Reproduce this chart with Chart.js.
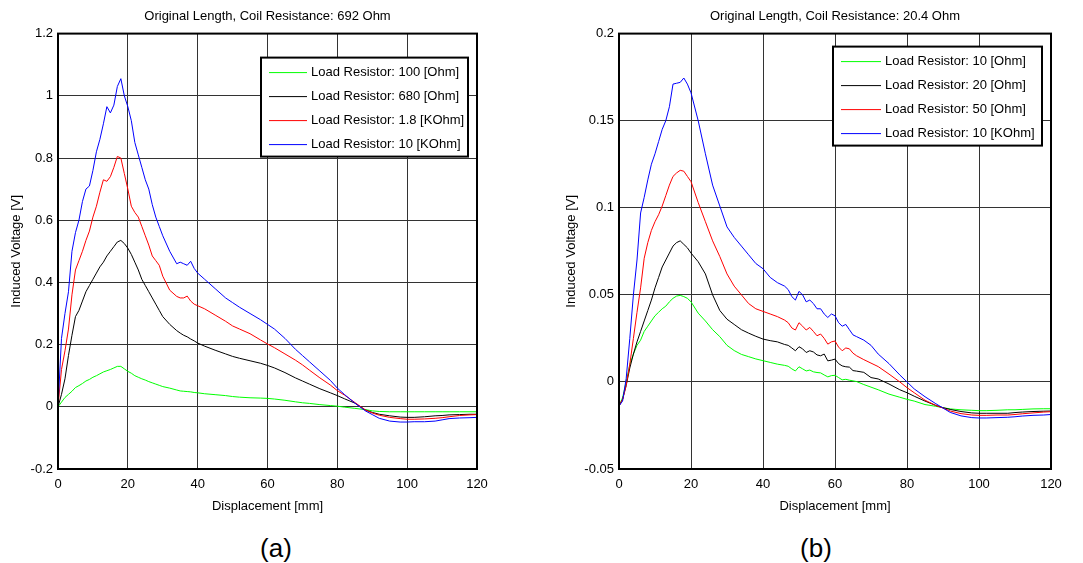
<!DOCTYPE html>
<html>
<head>
<meta charset="utf-8">
<script src="https://cdn.jsdelivr.net/npm/chart.js@4.4.1/dist/chart.umd.min.js"></script>
<style>
html, body { margin: 0; padding: 0; background: #fff; overflow: hidden; }
#page { position: relative; width: 1083px; height: 563px; }
canvas { position: absolute; top: 0; }
#chartA { left: 0; }
#chartB { left: 540px; }
.cap { position: absolute; top: 548px; transform: translate(-50%, -50%);
       font-family: "Liberation Sans", Arial, sans-serif; font-size: 26px; color: #000; }
</style>
</head>
<body>
<div id="page">
  <canvas id="chartA" width="540" height="520"></canvas>
  <canvas id="chartB" width="543" height="520"></canvas>
  <div class="cap" style="left:276px">(a)</div>
  <div class="cap" style="left:816px">(b)</div>
</div>
<script>
// (a) coil 692 Ohm
const dispA = [0,1,2,3,4,5,6,7,8,9,10,11,12,13,14,15,16,17,18,19,20,21,22,23,24,25,26,27,28,29,30,
  32,34,35,36,37,38,39,40,
  42,45,48,50,52,55,58,60,62,65,68,70,72,75,78,80,82,85,88,90,92,95,98,100,102,105,108,110,112,115,118,120];
const labelsA = ["Load Resistor: 100 [Ohm]", "Load Resistor: 680 [Ohm]", "Load Resistor: 1.8 [KOhm]", "Load Resistor: 10 [KOhm]"];
const vA_100 = [0,0.015,0.03,0.04,0.05,0.062,0.068,0.075,0.083,0.088,0.095,
  0.1,0.106,0.112,0.116,0.12,0.125,0.13,0.13,0.122,0.114,
  0.108,0.1,0.095,0.09,0.086,0.081,0.077,0.073,0.069,0.065,
  0.06,0.054,0.051,0.05,0.049,0.048,0.046,0.045,
  0.042,0.039,0.036,0.033,0.031,0.029,0.028,0.027,0.025,0.021,0.016,0.013,0.011,0.007,0.004,0.002,
  -0.001,-0.005,-0.009,-0.013,-0.015,-0.016,-0.016,-0.016,-0.016,-0.016,-0.016,-0.016,-0.016,-0.016,-0.016,-0.016];
const vA_680 = [0,0.04,0.09,0.165,0.23,0.29,0.31,0.34,0.37,0.39,0.41,
  0.43,0.45,0.465,0.485,0.5,0.515,0.53,0.535,0.525,0.51,
  0.49,0.465,0.44,0.41,0.39,0.37,0.35,0.33,0.31,0.29,
  0.265,0.245,0.237,0.23,0.225,0.218,0.212,0.205,
  0.195,0.182,0.17,0.162,0.156,0.148,0.14,0.133,0.125,0.11,0.093,0.083,0.073,0.058,0.045,0.036,
  0.026,0.012,-0.01,-0.018,-0.024,-0.029,-0.033,-0.034,-0.034,-0.032,-0.029,-0.028,-0.026,-0.025,-0.024,-0.024];
const vA_1k8 = [0,0.12,0.18,0.25,0.36,0.44,0.47,0.5,0.535,0.565,0.61,
  0.645,0.69,0.73,0.725,0.74,0.77,0.805,0.8,0.75,0.7,
  0.645,0.625,0.61,0.58,0.55,0.52,0.485,0.47,0.455,0.42,
  0.375,0.355,0.35,0.35,0.356,0.34,0.33,0.325,
  0.315,0.295,0.275,0.26,0.25,0.235,0.215,0.202,0.19,0.17,0.15,0.135,0.118,0.093,0.07,0.052,
  0.038,0.014,-0.01,-0.02,-0.027,-0.034,-0.038,-0.04,-0.04,-0.039,-0.037,-0.035,-0.032,-0.028,-0.026,-0.025];
const vA_10k = [0,0.22,0.3,0.37,0.5,0.56,0.6,0.66,0.7,0.71,0.76,
  0.82,0.86,0.91,0.965,0.945,0.97,1.03,1.055,1.0,0.965,
  0.92,0.85,0.81,0.77,0.73,0.7,0.65,0.61,0.58,0.55,
  0.5,0.46,0.465,0.46,0.455,0.468,0.445,0.43,
  0.41,0.38,0.35,0.335,0.32,0.3,0.28,0.265,0.25,0.22,0.185,0.165,0.145,0.115,0.085,0.06,
  0.04,0.012,-0.013,-0.025,-0.037,-0.046,-0.049,-0.049,-0.048,-0.048,-0.046,-0.042,-0.038,-0.036,-0.035,-0.034];

// (b) coil 20.4 Ohm
const dispB = [0,1,2,3,4,5,6,7,8,9,10,11,12,13,14,15,16,17,18,19,20,
  22,24,26,28,30,32,34,36,38,40,42,44,46,
  47,48,49,50,51,52,53,54,55,56,57,58,59,60,61,62,63,64,65,66,
  68,70,72,75,78,80,82,85,88,90,92,95,98,100,102,105,108,110,112,115,118,120];
const labelsB = ["Load Resistor: 10 [Ohm]", "Load Resistor: 20 [Ohm]", "Load Resistor: 50 [Ohm]", "Load Resistor: 10 [KOhm]"];
const vB_10 = [-0.0138,-0.009,0,0.01,0.016,0.021,0.024,0.029,0.032,0.035,0.038,0.04,0.042,0.0435,0.046,0.048,0.0493,0.0497,0.049,0.048,0.046,
  0.0395,0.035,0.03,0.026,0.021,0.018,0.0158,0.0145,0.0132,0.0122,0.0112,0.0102,0.0095,
  0.009,0.0075,0.0063,0.0087,0.0075,0.0063,0.0068,0.0058,0.0054,0.0052,0.004,0.0029,0.0036,0.0038,0.0025,0.0012,0.0015,0.001,0.0006,0.0002,
  -0.0015,-0.003,-0.0045,-0.007,-0.0088,-0.01,-0.011,-0.013,-0.014,-0.0148,-0.0155,-0.016,-0.0163,-0.0165,-0.0165,-0.0163,-0.016,-0.016,-0.0158,-0.0155,-0.0154,-0.0154];
const vB_20 = [-0.0138,-0.01,-0.002,0.008,0.016,0.023,0.029,0.035,0.041,0.047,0.054,0.06,0.066,0.07,0.074,0.078,0.08,0.081,0.079,0.077,0.074,
  0.069,0.062,0.05,0.041,0.036,0.033,0.03,0.028,0.0262,0.0246,0.0237,0.023,0.0215,
  0.021,0.0195,0.0179,0.0202,0.019,0.0169,0.0179,0.0172,0.0155,0.015,0.016,0.0121,0.0125,0.0131,0.0105,0.0092,0.0087,0.0085,0.0065,0.0062,
  0.0055,0.0025,0.0017,-0.0012,-0.0045,-0.0062,-0.0082,-0.011,-0.0135,-0.0148,-0.0158,-0.017,-0.0178,-0.018,-0.018,-0.018,-0.018,-0.0176,-0.0173,-0.017,-0.0168,-0.0167];
const vB_50 = [-0.0138,-0.01,-0.002,0.0102,0.025,0.04,0.054,0.071,0.08,0.087,0.092,0.096,0.101,0.107,0.113,0.118,0.12,0.1215,0.121,0.118,0.115,
  0.103,0.092,0.081,0.072,0.062,0.055,0.05,0.045,0.042,0.0405,0.039,0.0375,0.0355,
  0.034,0.031,0.0298,0.034,0.032,0.0298,0.0313,0.029,0.0265,0.0275,0.025,0.0217,0.023,0.0235,0.02,0.0179,0.0195,0.019,0.0165,0.015,
  0.0128,0.0108,0.0088,0.0045,0,-0.0033,-0.0062,-0.0105,-0.0135,-0.015,-0.0167,-0.0182,-0.019,-0.0192,-0.0192,-0.019,-0.019,-0.0187,-0.0183,-0.0178,-0.0173,-0.0171];
const vB_10k = [-0.0138,-0.011,0.002,0.025,0.05,0.07,0.097,0.106,0.116,0.125,0.131,0.138,0.145,0.15,0.158,0.171,0.1715,0.172,0.1745,0.171,0.166,
  0.15,0.131,0.113,0.101,0.089,0.083,0.078,0.073,0.068,0.065,0.06,0.057,0.055,
  0.053,0.049,0.047,0.052,0.05,0.046,0.047,0.045,0.042,0.042,0.039,0.037,0.039,0.038,0.034,0.032,0.033,0.03,0.027,0.026,
  0.024,0.021,0.016,0.0105,0.004,0,-0.004,-0.0085,-0.0125,-0.015,-0.0175,-0.0195,-0.0205,-0.0207,-0.0207,-0.0205,-0.0203,-0.02,-0.0196,-0.0192,-0.019,-0.0187];

const lineColors = ["#00ff00", "#000000", "#ff0000", "#0000ff"];

// narrow font like the original if we have it
function pickFont() {
    const c = document.createElement("canvas").getContext("2d");
    c.font = "15px monospace";
    const w1 = c.measureText("Load Resistor 123").width;
    c.font = '15px "Liberation Sans Narrow", monospace';
    const w2 = c.measureText("Load Resistor 123").width;
    if (w1 !== w2) return { family: '"Liberation Sans Narrow"', size: 15 };
    return { family: '"Liberation Sans", Arial', size: 13 };
}
const FONT = pickFont();

// matlab style labels: 1 not 1.0, 0 not -0.0
function tickText(v) {
    return String(Number(v.toFixed(4)));
}

const frameBox = {
    id: "frameBox",
    afterDraw(chart) {
        const a = chart.chartArea, ctx = chart.ctx;
        ctx.save();
        ctx.strokeStyle = "#000";
        ctx.lineWidth = 2;
        ctx.strokeRect(a.left, a.top, a.right - a.left, a.bottom - a.top);
        ctx.restore();
    }
};

const insideLegend = {
    id: "insideLegend",
    afterDraw(chart, args, o) {
        const a = chart.chartArea, ctx = chart.ctx;
        const bx = a.right - o.gapRight - o.width;
        const by = a.top + o.gapTop;
        ctx.save();
        ctx.fillStyle = "#fff";
        ctx.fillRect(bx, by, o.width, o.height);
        ctx.strokeStyle = "#000";
        ctx.lineWidth = 2;
        ctx.strokeRect(bx, by, o.width, o.height);
        ctx.font = FONT.size + "px " + FONT.family;
        ctx.textBaseline = "middle";
        chart.data.datasets.forEach((ds, i) => {
            const y = by + o.rows[i];
            ctx.strokeStyle = ds.borderColor;
            ctx.lineWidth = 1;
            ctx.beginPath();
            ctx.moveTo(bx + o.lineFrom, y);
            ctx.lineTo(bx + o.lineEnd, y);
            ctx.stroke();
            ctx.fillStyle = "#000";
            ctx.fillText(ds.label, bx + o.textX, y);
        });
        ctx.restore();
    }
};

function makeChart(id, xs, series, labels, title, yMin, yMax, yStep, geo) {
    const font = { family: FONT.family, size: FONT.size };
    const datasets = series.map((vals, i) => ({
        label: labels[i],
        data: xs.map((x, j) => ({ x: x, y: vals[j] })),
        borderColor: lineColors[i],
        borderWidth: 1,
        pointRadius: 0,
        tension: 0,
        order: series.length - i
    }));
    return new Chart(document.getElementById(id), {
        type: "line",
        data: { datasets: datasets },
        options: {
            responsive: false,
            animation: false,
            events: [],
            layout: { padding: { left: 0, right: geo.padRight, top: 0, bottom: 0 } },
            plugins: {
                legend: { display: false },
                tooltip: { enabled: false },
                title: {
                    display: true, text: title, color: "#000", fullSize: false,
                    font: { family: FONT.family, size: FONT.size, weight: "normal" },
                    padding: { top: 9, bottom: 9 }
                },
                insideLegend: geo.legend
            },
            scales: {
                x: {
                    type: "linear", min: 0, max: 120,
                    ticks: { stepSize: 20, padding: 8, color: "#000", font: font, maxRotation: 0, callback: tickText },
                    grid: { color: "#333", lineWidth: 1, drawTicks: false },
                    border: { display: true, color: "#000", width: 2 },
                    title: { display: true, text: "Displacement [mm]", color: "#000", font: font, padding: { top: 0, bottom: 6 } },
                    afterFit(s) { s.height = 51; }
                },
                y: {
                    type: "linear", min: yMin, max: yMax,
                    ticks: { stepSize: yStep, padding: 5, color: "#000", font: font, callback: tickText },
                    grid: { color: "#333", lineWidth: 1, drawTicks: false },
                    border: { display: true, color: "#000", width: 2 },
                    title: { display: true, text: "Induced Voltage [V]", color: "#000", font: font, padding: { top: geo.yTitlePad, bottom: 0 } },
                    afterFit(s) { s.width = geo.yWidth; }
                }
            }
        },
        plugins: [frameBox, insideLegend]
    });
}

window.addEventListener("load", () => {
    makeChart("chartA", dispA, [vA_100, vA_680, vA_1k8, vA_10k], labelsA,
        "Original Length, Coil Resistance: 692 Ohm", -0.2, 1.2, 0.2,
        { padRight: 63, yWidth: 58, yTitlePad: 9,
          legend: { gapRight: 9, gapTop: 24, width: 207, height: 99, rows: [15, 39, 63, 87], lineFrom: 8, lineEnd: 46, textX: 50 } });
    makeChart("chartB", dispB, [vB_10, vB_20, vB_50, vB_10k], labelsB,
        "Original Length, Coil Resistance: 20.4 Ohm", -0.05, 0.2, 0.05,
        { padRight: 32, yWidth: 79, yTitlePad: 24,
          legend: { gapRight: 9, gapTop: 13, width: 209, height: 99, rows: [15, 39, 63, 87], lineFrom: 8, lineEnd: 48, textX: 52 } });
});
</script>
</body>
</html>
